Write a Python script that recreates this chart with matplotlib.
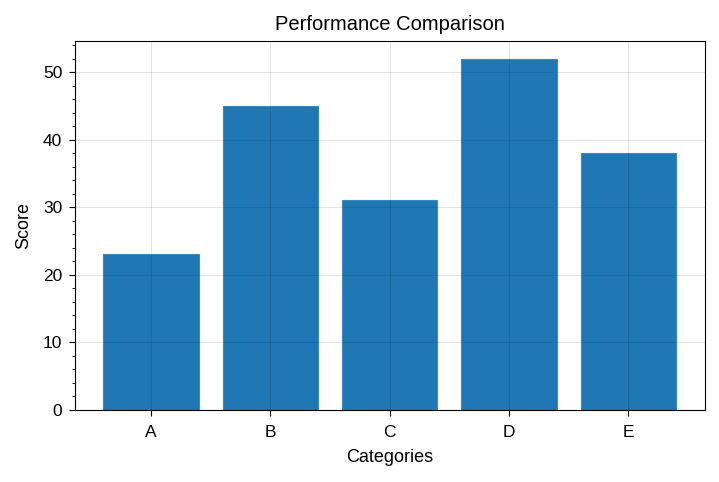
import matplotlib
matplotlib.use("Agg")
import matplotlib.pyplot as plt
from matplotlib.ticker import MultipleLocator

plt.rcParams["font.family"] = ["Liberation Sans", "DejaVu Sans"]

categories = ["A", "B", "C", "D", "E"]
scores = [23, 45, 31, 52, 38]

fig, ax = plt.subplots(figsize=(7.19, 4.82), dpi=100)
fig.subplots_adjust(left=0.104, right=0.98, top=0.915, bottom=0.15)

ax.bar(categories, scores, width=0.8, color="#1f77b4", edgecolor="#3a88c0",
       linewidth=0.8, zorder=1)

ax.set_title("Performance Comparison", fontsize=14.5, pad=8)
ax.set_xlabel("Categories", fontsize=13, labelpad=6.5)
ax.set_ylabel("Score", fontsize=13, labelpad=8)
ax.tick_params(labelsize=12.5)

ax.yaxis.set_minor_locator(MultipleLocator(2))
ax.tick_params(axis="y", which="minor", length=2.5)
ax.tick_params(axis="both", which="major", length=4, pad=5)
ax.tick_params(axis="x", which="major", pad=7)
ax.grid(True, color="black", alpha=0.1, linewidth=0.8, zorder=2)
ax.set_axisbelow(False)

plt.savefig("out.png", dpi=100)
